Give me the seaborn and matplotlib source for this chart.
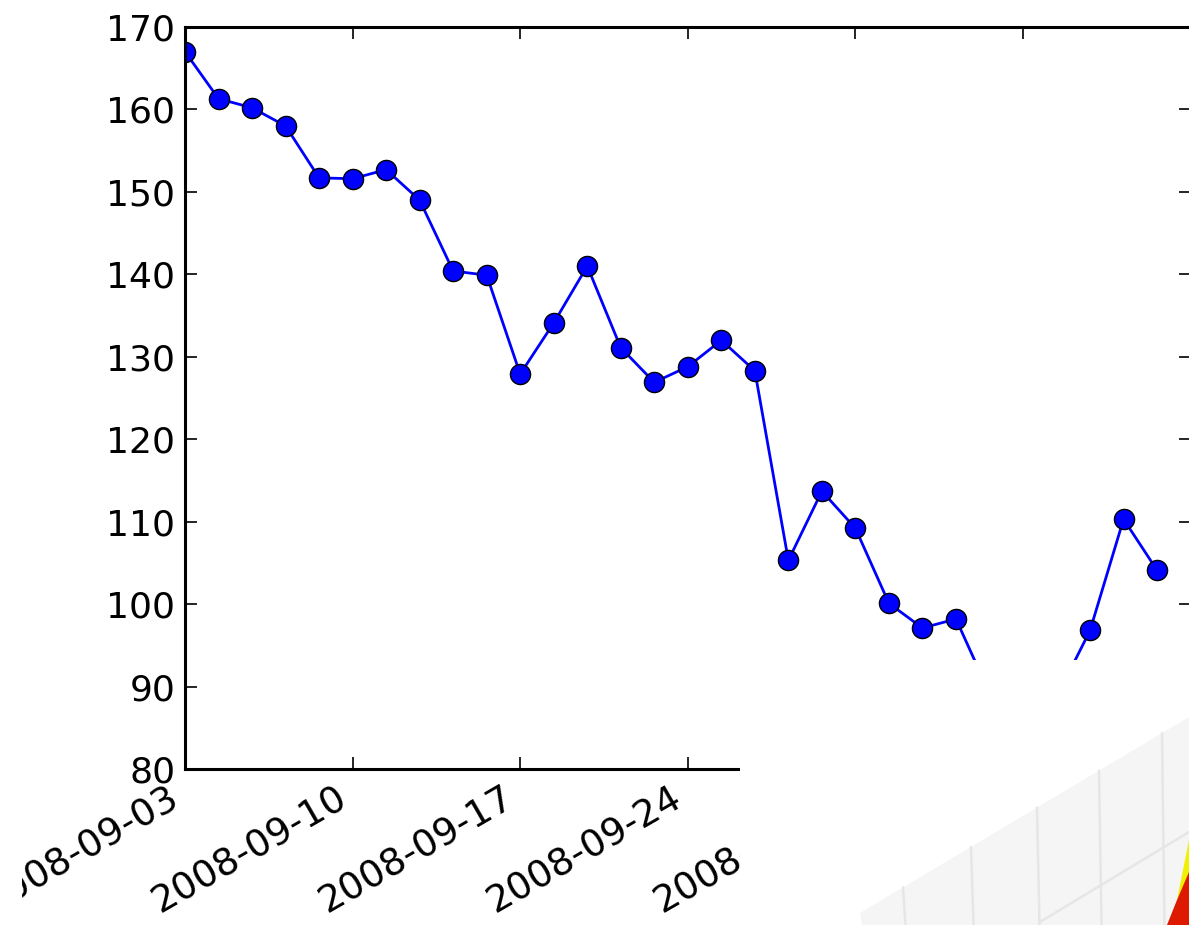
import numpy as np
import pandas as pd
import matplotlib
matplotlib.use("Agg")
import matplotlib.pyplot as plt
import seaborn as sns
from matplotlib.patches import Polygon, Rectangle

# ---- data ----
dates = ["2008-09-03", "2008-09-04", "2008-09-05", "2008-09-08", "2008-09-09",
         "2008-09-10", "2008-09-11", "2008-09-12", "2008-09-15", "2008-09-16",
         "2008-09-17", "2008-09-18", "2008-09-19", "2008-09-22", "2008-09-23",
         "2008-09-24", "2008-09-25", "2008-09-26", "2008-09-29", "2008-09-30",
         "2008-10-01", "2008-10-02", "2008-10-03", "2008-10-06", "2008-10-07",
         "2008-10-08", "2008-10-09", "2008-10-10", "2008-10-13", "2008-10-14"]
close = [167.0, 161.3, 160.2, 158.0, 151.7, 151.6, 152.7, 149.0, 140.4, 139.9,
         127.9, 134.1, 141.0, 131.1, 126.9, 128.8, 132.0, 128.3, 105.3, 113.7,
         109.2, 100.1, 97.1, 98.2, 89.2, 89.8, 88.7, 96.8, 110.3, 104.1]
tick_idx = [0, 5, 10, 15, 20, 25, 30]
tick_labels = ["2008-09-03", "2008-09-10", "2008-09-17", "2008-09-24",
               "2008-10-01", "2008-10-08", "2008-10-15"]
y_ticks = [80, 90, 100, 110, 120, 130, 140, 150, 160, 170]

df = pd.DataFrame({"idx": np.arange(len(close)), "close": close})

sns.set_theme(style="white")
plt.rcParams.update({
    "font.family": ["DejaVu Sans"],
    "xtick.direction": "in", "ytick.direction": "in",
    "xtick.top": True, "ytick.right": True,
    "xtick.bottom": True, "ytick.left": True,
    "xtick.major.size": 8.5, "ytick.major.size": 8.5,
    "xtick.major.width": 1.2, "ytick.major.width": 1.2,
    "xtick.color": "black", "ytick.color": "black",
    "axes.edgecolor": "black", "axes.linewidth": 2.2,
})

W, H = 1189, 925
fig = plt.figure(figsize=(W / 100, H / 100), dpi=100)
fig.patch.set_facecolor("white")

left_px, right_px, top_px, bottom_px = 185, 1190.6, 27, 769
ax = fig.add_axes([left_px / W, 1 - bottom_px / H,
                   (right_px - left_px) / W, (bottom_px - top_px) / H])
ax.set_facecolor("white")

sns.lineplot(data=df, x="idx", y="close", ax=ax, color="blue", marker="o",
             markersize=14.5, markeredgecolor="black", markeredgewidth=1.0,
             linewidth=2.0)

ax.set_xlim(0, 30)
ax.set_ylim(80, 170)
ax.set_yticks(y_ticks)
ax.set_xticks(tick_idx)
ax.set_xticklabels(tick_labels, rotation=30, ha="right")
ax.set_xlabel("")
ax.set_ylabel("")
ax.tick_params(axis="y", labelsize=26, pad=7)
ax.tick_params(axis="x", labelsize=27, pad=8)
for s in ax.spines.values():
    s.set_visible(True)
    s.set_color("black")
    s.set_linewidth(2.2)

# ---- overlapping neighbour panel (white, with a corner of a 3-D pane) ----
x0, y0 = 740, 660
ov = fig.add_axes([x0 / W, 0, (W - x0) / W, (H - y0) / H])
ov.set_facecolor("white")
ov.set_xlim(x0, W)
ov.set_ylim(H, y0)
ov.set_xticks([])
ov.set_yticks([])
for s in ov.spines.values():
    s.set_visible(False)

pane = Polygon([(860, 913), (1189, 717), (1189, 925), (862, 925)],
               closed=True, facecolor="#f5f5f5", edgecolor="none")
ov.add_patch(pane)
grid_c = "#e6e6e6"
for xt in [903, 971, 1037, 1099, 1162]:
    ytop = 913 - (xt - 860) * 0.596
    ov.plot([xt, xt + 2.5], [ytop, 925], color=grid_c, lw=1.8)
ov.plot([1040, 1189], [922, 832], color=grid_c, lw=1.8)
ov.add_patch(Polygon([(1189, 840), (1177, 900), (1189, 878)], closed=True,
                     facecolor="#f0f000", edgecolor="none"))
ov.add_patch(Polygon([(1189, 872), (1177, 900), (1167, 925), (1189, 925)],
                     closed=True, facecolor="#dd1a00", edgecolor="none"))

# white strip of a neighbouring panel on the lower left
fig.patches.append(Rectangle((0, 0), 22 / W, (H - 775) / H,
                             transform=fig.transFigure, facecolor="white",
                             edgecolor="none", zorder=10))

fig.savefig("out.png", dpi=100, facecolor="white")
